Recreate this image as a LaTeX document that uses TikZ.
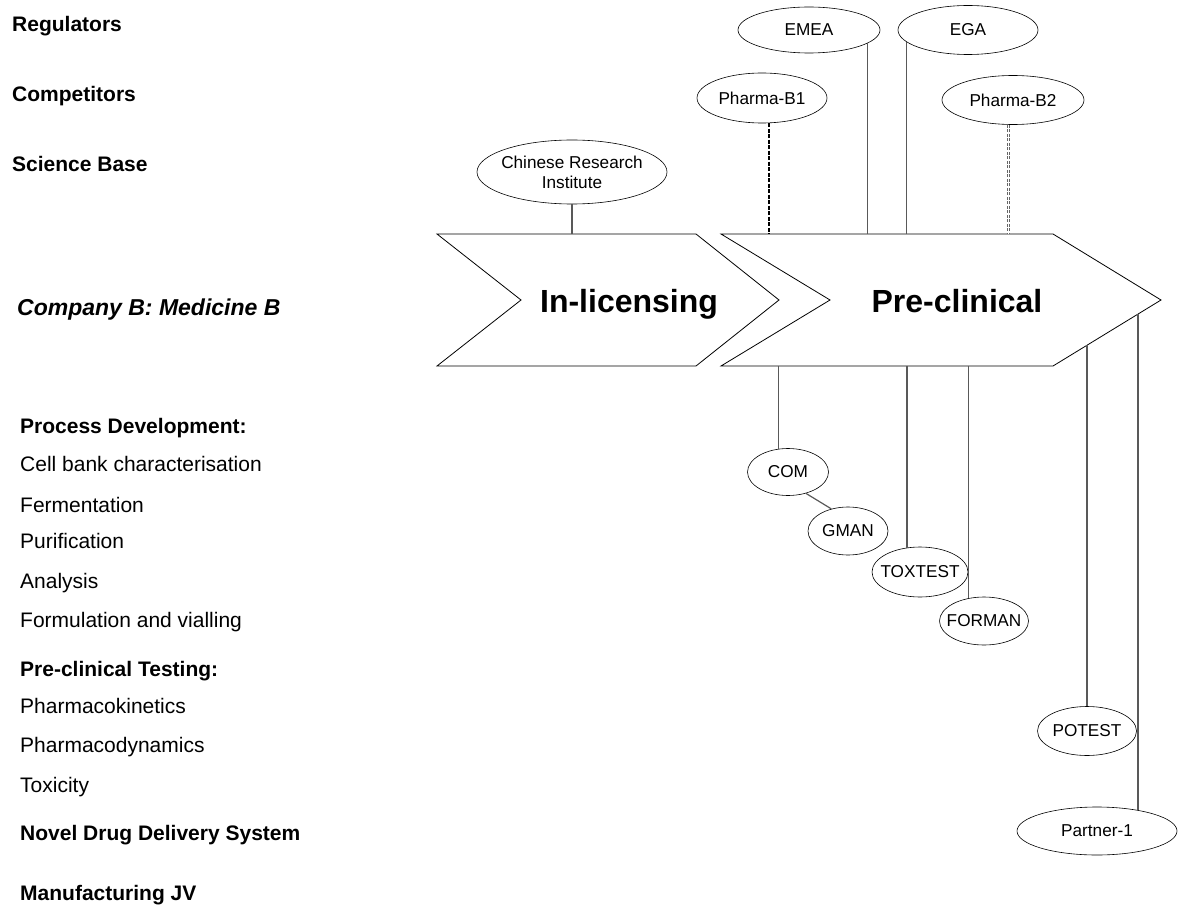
\documentclass[tikz,border=0pt]{standalone}
\usepackage{fontspec}
\setmainfont{Liberation Sans}
\usetikzlibrary{shapes.geometric}

\begin{document}
\begin{tikzpicture}[x=1pt, y=-1pt]
    \tikzstyle{heading} = [anchor=base west, inner sep=0pt, font=\fontsize{21}{25}\selectfont\bfseries]
    \tikzstyle{item}    = [anchor=base west, inner sep=0pt, font=\fontsize{21}{25}\selectfont]
    \tikzstyle{stage}   = [anchor=base, inner sep=0pt, font=\fontsize{32}{38}\selectfont\bfseries]
    \tikzstyle{actor}   = [ellipse, draw=black, line width=0.6pt, fill=white, inner xsep=-7pt, inner ysep=0pt, align=center, font=\fontsize{17.2}{20}\selectfont]
    \tikzstyle{chevron} = [draw=black, line width=0.8pt, line join=miter]
    \tikzstyle{link}    = [draw=black!65, line width=1.2pt]
    \tikzstyle{rival}   = [draw=black, line width=2pt, dash pattern=on 4pt off 1.5pt]
    \tikzstyle{rivaltwo}= [draw=black!60, line width=0.8pt, double, double distance=1.2pt, dash pattern=on 3pt off 1.5pt]

    \useasboundingbox (0,0) rectangle (1180,920);

    % Environment
    \node [heading] (regulators)  at (12,32)  {Regulators};
    \node [heading] (competitors) at (12,102) {Competitors};
    \node [heading] (science)     at (12,172) {Science Base};
    \node [heading, font=\fontsize{23}{28}\selectfont\bfseries\itshape] (company) at (17,315) {Company B: Medicine B};

    % Capabilities
    \node [heading] (procdev)     at (20,433) {Process Development:};
    \node [item]    (cellbank)    at (20,471) {Cell bank characterisation};
    \node [item]    (fermentation) at (20,512) {Fermentation};
    \node [item]    (purification) at (20,548) {Purification};
    \node [item]    (analysis)    at (20,588) {Analysis};
    \node [item]    (formulation) at (20,627) {Formulation and vialling};
    \node [heading] (pretesting)  at (20,676) {Pre-clinical Testing:};
    \node [item]    (pkinetics)   at (20,713) {Pharmacokinetics};
    \node [item]    (pdynamics)   at (20,752) {Pharmacodynamics};
    \node [item]    (toxicity)    at (20,792) {Toxicity};
    \node [heading] (ndds)        at (20,840) {Novel Drug Delivery System};
    \node [heading] (mjv)         at (20,900) {Manufacturing JV};

    % Stages
    \draw [chevron] (437,234) coordinate (in-nw) -- (696,234) -- (779,300) -- (696,366)
        -- (437,366) coordinate (in-sw) -- (521,300) -- cycle;
    \node [stage] (inlicensing) at (629,312) {In-licensing};
    \draw [chevron] (721,234) coordinate (pre-nw) -- (1053,234) -- (1161,300) coordinate (pre-tip)
        -- (1053,366) coordinate (pre-se) -- (721,366) coordinate (pre-sw) -- (830,300) -- cycle;
    \node [stage] (preclinical) at (957,312) {Pre-clinical};
    \coordinate (pre-potest)  at (1087,345);
    \coordinate (pre-partner) at (1138,314);

    % Actors
    \node [actor, minimum width=142pt, minimum height=46pt] (emea)     at (809,30)   {EMEA};
    \node [actor, minimum width=140pt, minimum height=49pt] (ega)      at (968,30)   {EGA};
    \node [actor, minimum width=130pt, minimum height=50pt] (pharmab1) at (762,98)   {Pharma-B1};
    \node [actor, minimum width=142pt, minimum height=49pt] (pharmab2) at (1013,100) {Pharma-B2};
    \node [actor, minimum width=190pt, minimum height=64pt] (chinese)  at (572,172)  {Chinese Research\\Institute};
    \node [actor, minimum width=81pt,  minimum height=47pt] (com)      at (788,472)  {COM};
    \node [actor, minimum width=80pt,  minimum height=48pt] (gman)     at (848,531)  {GMAN};
    \node [actor, minimum width=96pt,  minimum height=50pt] (toxtest)  at (920,572)  {TOXTEST};
    \node [actor, minimum width=89pt,  minimum height=48pt] (forman)   at (984,621)  {FORMAN};
    \node [actor, minimum width=99pt,  minimum height=49pt] (potest)   at (1087,731) {POTEST};
    \node [actor, minimum width=160pt, minimum height=48pt] (partner)  at (1097,831) {Partner-1};

    % Links
    \draw [link]     (chinese.south)  -- (chinese.south |- in-nw);
    \draw [rival]    (pharmab1.-74)   -- (pharmab1.-74 |- pre-nw);
    \draw [link]     (emea.-13)       -- (emea.-13 |- pre-nw);
    \draw [link]     (ega.191)        -- (ega.191 |- pre-nw);
    \draw [rivaltwo] (pharmab2.-100)  -- (pharmab2.-100 |- pre-nw);
    \draw [link]     (com.113)        -- (com.113 |- pre-sw);
    \draw [link]     (com.-50)        -- (gman.127);
    \draw [link]     (toxtest.118)    -- (toxtest.118 |- pre-sw);
    \draw [link]     (forman.125)     -- (forman.125 |- pre-sw);
    \draw [link]     (potest.north)   -- (potest.north |- pre-potest);
    \draw [link]     (partner.27)     -- (partner.27 |- pre-partner);

\end{tikzpicture}
\end{document}
